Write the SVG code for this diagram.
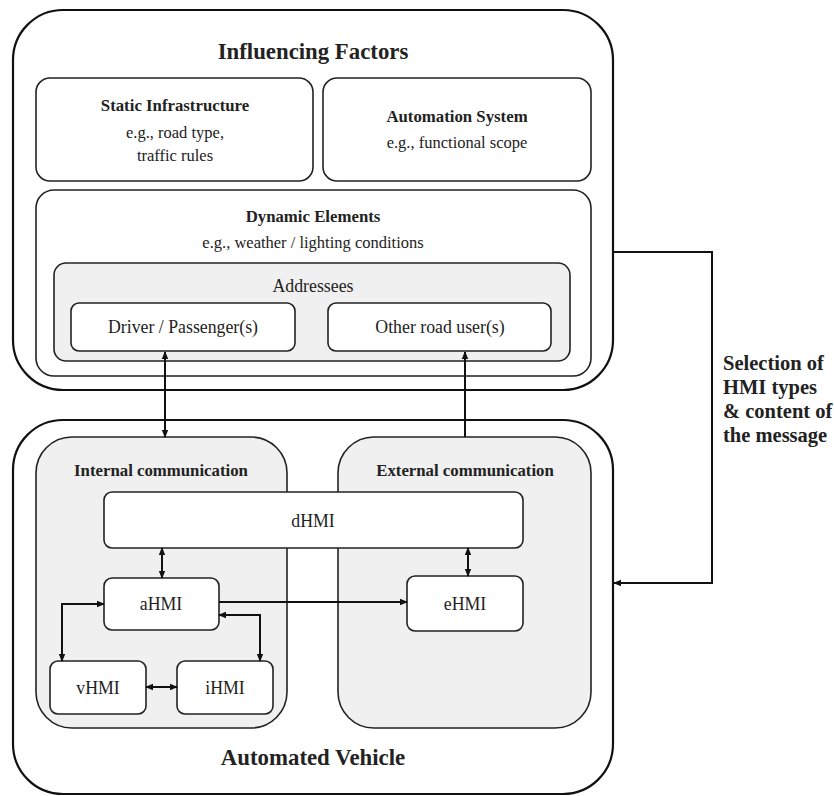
<svg xmlns="http://www.w3.org/2000/svg" width="834" height="796" viewBox="0 0 834 796">
<style>
.outer{fill:#fff;stroke:#111;stroke-width:2.2}
.box{fill:#fff;stroke:#222;stroke-width:1.6}
.grey{fill:#f0f0f0;stroke:#222;stroke-width:1.6}
.t{font-family:"Liberation Serif","DejaVu Serif",serif;fill:#222;text-anchor:middle}
.b{font-weight:bold}
.h1{font-size:22.8px}
.h2{font-size:16.8px}
.e{font-size:16.5px}
.n{font-size:17.8px}
.side{font-family:"Liberation Serif","DejaVu Serif",serif;fill:#222;font-weight:bold;font-size:20.5px}
.c{fill:none;stroke:#111;stroke-width:2}
</style>
<defs>
<marker id="ah" markerUnits="userSpaceOnUse" markerWidth="8" markerHeight="8" viewBox="0 0 8 8" refX="7" refY="4" orient="auto-start-reverse">
<path d="M0,0.8 L8,4 L0,7.2 Z" fill="#111"/>
</marker>
</defs>
<g id="influencing-factors">
<rect class="outer" x="13" y="10" width="600" height="380" rx="50"/>
<text class="t b h1" x="313" y="59">Influencing Factors</text>
</g>
<g id="static-infrastructure">
<rect class="box" x="36" y="78" width="277" height="103" rx="14"/>
<text class="t b h2" x="175" y="111">Static Infrastructure</text>
<text class="t e" x="175" y="138">e.g., road type,</text>
<text class="t e" x="175" y="161">traffic rules</text>
</g>
<g id="automation-system">
<rect class="box" x="323" y="78" width="268" height="103" rx="14"/>
<text class="t b h2" x="457" y="122">Automation System</text>
<text class="t e" x="457" y="148">e.g., functional scope</text>
</g>
<g id="dynamic-elements">
<rect class="box" x="36" y="190" width="555" height="186" rx="18"/>
<text class="t b h2" x="313" y="222">Dynamic Elements</text>
<text class="t e" x="313" y="248">e.g., weather / lighting conditions</text>
</g>
<g id="addressees">
<rect class="grey" x="54" y="263" width="516" height="98" rx="12"/>
<text class="t n" x="313" y="292">Addressees</text>
</g>
<g id="driver">
<rect class="box" x="71" y="303" width="224" height="48" rx="8"/>
<text class="t n" x="183" y="333">Driver / Passenger(s)</text>
</g>
<g id="other-road-users">
<rect class="box" x="328" y="303" width="223" height="48" rx="8"/>
<text class="t n" x="440" y="333">Other road user(s)</text>
</g>
<g id="automated-vehicle">
<rect class="outer" x="13" y="420" width="600" height="374" rx="50"/>
<text class="t b h1" x="313" y="765">Automated Vehicle</text>
</g>
<g id="internal-communication">
<rect class="grey" x="36" y="437" width="251" height="291" rx="36"/>
<text class="t b h2" x="161" y="476">Internal communication</text>
</g>
<g id="external-communication">
<rect class="grey" x="338" y="437" width="253" height="291" rx="36"/>
<text class="t b h2" x="465" y="476">External communication</text>
</g>
<g id="dhmi">
<rect class="box" x="104" y="492" width="419" height="56" rx="8"/>
<text class="t n" x="313" y="527">dHMI</text>
</g>
<g id="ahmi">
<rect class="box" x="104" y="578" width="115" height="52" rx="8"/>
<text class="t n" x="161" y="610">aHMI</text>
</g>
<g id="ehmi">
<rect class="box" x="407" y="576" width="116" height="55" rx="8"/>
<text class="t n" x="465" y="610">eHMI</text>
</g>
<g id="vhmi">
<rect class="box" x="50" y="661" width="96" height="53" rx="8"/>
<text class="t n" x="98" y="694">vHMI</text>
</g>
<g id="ihmi">
<rect class="box" x="177" y="661" width="96" height="53" rx="8"/>
<text class="t n" x="225" y="694">iHMI</text>
</g>
<g id="selection-label">
<text class="side" x="723" y="370">Selection of</text>
<text class="side" x="723" y="394">HMI types</text>
<text class="side" x="723" y="418">&amp; content of</text>
<text class="side" x="723" y="442">the message</text>
</g>
<g id="connectors">
<path class="c" d="M165,352 L165,437" marker-start="url(#ah)" marker-end="url(#ah)"/>
<path class="c" d="M465,437 L465,352" marker-end="url(#ah)"/>
<path class="c" d="M613,252 L712,252 L712,583 L614,583" marker-end="url(#ah)"/>
<path class="c" d="M162,548 L162,578" marker-start="url(#ah)" marker-end="url(#ah)"/>
<path class="c" d="M468,548 L468,576" marker-start="url(#ah)" marker-end="url(#ah)"/>
<path class="c" d="M219,602 L407,602" marker-end="url(#ah)"/>
<path class="c" d="M104,604 L62,604 L62,661" marker-start="url(#ah)" marker-end="url(#ah)"/>
<path class="c" d="M219,615 L260,615 L260,661" marker-start="url(#ah)" marker-end="url(#ah)"/>
<path class="c" d="M146,687 L177,687" marker-start="url(#ah)" marker-end="url(#ah)"/>
</g>
</svg>
